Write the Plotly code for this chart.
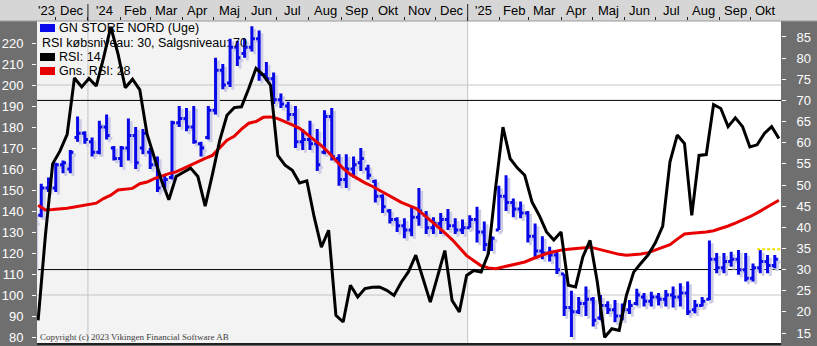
import plotly.graph_objects as go
import pandas as pd

# ---------------- data ----------------
weeks = pd.date_range('2023-11-10', periods=103, freq='7D')   # weekly bars

high = [140,153,156,163,164,169,185,178,175,183,
        186,171,171,184,180,179,170,166,157,183,
        190,189,190,173,190,213,210,222,221,222,
        228,226,211,206,196,192,190,179,183,179,
        188,189,167,167,166,170,162,155,148,141,
        137,136.5,142,151,140,137,139,141,136.5,136,
        138,142,135,128,152,157,146,144.5,140,134,
        128,123,121,110,102,99,104,99,100,97,
        97.6,96,97.6,103,101,101.6,101,102.4,104,105.6,
        106.4,97.6,99,126,120,120,120.6,121.4,120,115,
        121.4,119,119]
low = [113,137,149,149,158,158,173,172,166,167,
       174,164,161,164,160,167,160,149,151,155,
       180,178,172,166,174,186,198,199,209,213,
       216,202,202,191,189,183,170,169,169,159,
       167,164,152,151,156,159,155,144,139,134,
       130,127,128,133,129,129,129,131,129,129,
       132,125,121,121,131,140,137,136.5,125,118,
       117,116,110,90,80,91,90,85,88,91,
       87,88,91,95,94.5,94.5,95,94.5,94,94.5,
       90.5,91.3,94.5,97.6,110.4,110.4,113.5,109.6,106.4,106.4,
       110.4,110.4,112.7]
open_ = [114,138,151,151,162,160,175,177,173,168,
         180,170,165,170,176,170,168,162,152,156,
         182,184,180,172,175,188,207,201,218,215,
         218,222,205,203,193,190,186,173,174,172,
         168,185,165,155,160,163,160,154,147,140,
         136,133,131,137,138,132,134,136,133,131,
         132,136,130,124,131,147,144,141,139,128,
         121,120,119,110,94,92,96,98,89,95,
         93,90,93,96,99,97,99,98,100,99,
         101,93,95,98,117,113,116,117,112,108,
         113,116,114]
close = [135,151,152,162,163,168,177,174,168,180,
         176,165,170,176,163,177,162,151,155,182,
         184,180,173,170,188,207,200,218,213,218,
         222,205,203,193,191,186,173,174,172,162,
         185,166,155,160,162,165,157,147,142,136,
         133,131,137,140,132,134,136,133,131,132,
         136,130,124,127,147,144,141,139,128,121,
         120,119,112,94,92,96,98,88,95,93,
         90,93,95,100,97,99,98,100,99,101,
         92,95,97,117,113,116,117,112,108,113,
         116,114,117]
rsi = [18,38,55,58,62,75.3,73.2,75.2,73.4,80,
       87.4,81,73,75,72.5,62,56.5,51,46.5,52,
       53,54,52,45,52.5,60.5,66.5,68.3,68.5,72.8,
       77.6,76,73.6,57,54.7,53.5,50.5,51,42.5,35.3,
       39.3,19.2,17.6,26.3,23.5,25.5,25.8,25.9,25.1,23.9,
       27,29.5,33.4,28,22.3,28.4,34.5,22.7,20,28.6,
       29.8,29.4,33.8,49.5,63.7,56.2,54,52.3,46,42.8,
       38.9,37,38.9,26.3,25.9,33,36.9,27,14,16,
       15.6,23.9,29.4,31.5,33.5,36.4,40.3,55.5,61.8,59.8,
       42.8,57,57.2,69,68.1,63.8,65.9,63.8,59,59.5,
       62.2,63.8,61]
rsi_avg = [45.2,44.1,44.2,44.3,44.5,44.8,45.1,45.4,45.7,46.8,
           47.6,48.8,49,49.2,50.3,50.7,51.5,52.1,52.7,53.1,
           53.9,54.8,55.6,56.3,57,58.7,60.6,61.5,63.2,64.6,
           65,66,66.1,65.7,65,64.2,63.4,62.1,60.8,59.3,
           57.7,55.8,53.9,52.5,51.4,50.5,49.7,48.8,47.8,46.8,
           45.9,45.2,44.5,43.1,41.7,40.2,38.7,37.1,35.3,33.3,
           32.1,30.9,30.4,30.2,30.6,31,31.4,31.8,32.5,33.1,
           33.8,34.2,34.6,34.8,35,35.2,35.3,34.9,34.5,34.1,
           33.6,33.4,33.5,33.7,34,34.6,35.2,35.9,37.2,38.4,
           38.6,38.7,38.9,39.2,39.7,40.3,41,41.7,42.5,43.4,
           44.4,45.4,46.4]

month_starts = pd.date_range('2023-11-01', '2025-10-01', freq='MS')
month_labels = ["'23", "Dec", "'24", "Feb", "Mar", "Apr", "Maj", "Jun", "Jul", "Aug", "Sep", "Okt",
                "Nov", "Dec", "'25", "Feb", "Mar", "Apr", "Maj", "Jun", "Jul", "Aug", "Sep", "Okt"]
year_starts = pd.to_datetime(['2024-01-01', '2025-01-01'])
price_ticks = list(range(80, 230, 10))
rsi_ticks = list(range(15, 90, 5))
rsi_levels = [30, 70]
price_grid = [100, 200]
marker_level = 121.8

# ---------------- layout geometry ----------------
W, H = 817, 346
L, R, T, B = 37, 36, 21, 2
PW, PH = W - L - R, H - T - B
x0 = pd.Timestamp('2023-11-12 22:00')
x1 = pd.Timestamp('2025-10-30 00:00')
y_range = [76.67, 230.48]
rsi_range = [12.40, 88.78]


def px(x):
    return (x - L) / PW


def py(y):
    return 1 - (y - T) / PH


def dfrac(d):
    return (d - x0) / (x1 - x0)


FONT = "Liberation Sans"
BLUE = '#0808e8'
SHADOW = '#cdcde6'

month_next = list(month_starts[1:]) + [pd.Timestamp('2025-11-01')]
label_pos = [max(s, x0) + (min(n, x1) - max(s, x0)) / 2 for s, n in zip(month_starts, month_next)]

fig = go.Figure()

# shadow of bars
fig.add_trace(go.Ohlc(
    x=weeks + pd.Timedelta(days=2.6),
    open=[v - 1.3 for v in open_], high=[v - 1.3 for v in high],
    low=[v - 1.3 for v in low], close=[v - 1.3 for v in close],
    increasing=dict(line=dict(color=SHADOW, width=3)),
    decreasing=dict(line=dict(color=SHADOW, width=3)),
    tickwidth=0.42, hoverinfo='skip', showlegend=False))

fig.add_trace(go.Ohlc(
    x=weeks, open=open_, high=high, low=low, close=close,
    increasing=dict(line=dict(color=BLUE, width=3)),
    decreasing=dict(line=dict(color=BLUE, width=3)),
    tickwidth=0.42, showlegend=False, name='GN STORE NORD (Uge)'))

rsi_x = weeks + pd.Timedelta(days=4)
fig.add_trace(go.Scatter(x=rsi_x, y=rsi_avg, yaxis='y2', mode='lines',
                         line=dict(color='#e80000', width=3), showlegend=False))
fig.add_trace(go.Scatter(x=rsi_x, y=rsi, yaxis='y2', mode='lines',
                         line=dict(color='#000000', width=3), showlegend=False))
fig.add_trace(go.Scatter(x=[weeks[99] + pd.Timedelta(days=4), x1], y=[marker_level, marker_level],
                         mode='lines', line=dict(color='#f0e000', width=2, dash='3px,2px'),
                         showlegend=False))

shapes = []
# top strip
shapes.append(dict(type='rect', xref='paper', yref='paper', x0=px(0), x1=px(W), y0=1, y1=py(0),
                   fillcolor='#d6d6d6', line=dict(width=0), layer='below'))
shapes.append(dict(type='line', xref='paper', yref='paper', x0=px(0), x1=px(W), y0=1, y1=1,
                   line=dict(color='#9a9a9a', width=1)))
# 2023-2024 light background
shapes.append(dict(type='rect', xref='paper', yref='paper', x0=0, x1=dfrac(year_starts[1]), y0=0, y1=1,
                   fillcolor='#f3f3f3', line=dict(width=0), layer='below'))
# price grid lines
for g in price_grid:
    shapes.append(dict(type='line', xref='paper', yref='y', x0=0, x1=1, y0=g, y1=g,
                       line=dict(color='#c4c4c4', width=1), layer='below'))
# year lines
for ys in year_starts:
    f = dfrac(ys)
    shapes.append(dict(type='line', xref='paper', yref='paper', x0=f, x1=f, y0=0, y1=1,
                       line=dict(color='#c4c4c4', width=1), layer='below'))
    shapes.append(dict(type='line', xref='paper', yref='paper', x0=f, x1=f, y0=1, y1=py(4),
                       line=dict(color='#202020', width=1)))
# RSI levels
for lv in rsi_levels:
    shapes.append(dict(type='line', xref='paper', yref='y2', x0=0, x1=1, y0=lv, y1=lv,
                       line=dict(color='#000000', width=1), layer='below'))
# bottom border
shapes.append(dict(type='line', xref='paper', yref='paper', x0=0, x1=1, y0=0, y1=0,
                   line=dict(color='#202020', width=2)))

annotations = []
# month labels in the top strip
for pos, txt in zip(label_pos, month_labels):
    annotations.append(dict(text=txt, xref='x', yref='paper', x=pos, y=py(10.5),
                            xanchor='center', yanchor='middle', showarrow=False,
                            font=dict(family=FONT, size=13, color='#000000')))

# legend
leg = [(28, BLUE, 'GN STORE NORD (Uge)'), (43, None, 'RSI købsniveau: 30, Salgsniveau: 70'),
       (57, '#000000', 'RSI: 14'), (71, '#e80000', 'Gns. RSI: 28')]
for yy, col, txt in leg:
    if col:
        shapes.append(dict(type='rect', xref='paper', yref='paper', x0=px(40), x1=px(55),
                           y0=py(yy + 4), y1=py(yy - 4), fillcolor=col, line=dict(width=0)))
        xt = 57
    else:
        xt = 40
    annotations.append(dict(text=txt, xref='paper', yref='paper', x=px(xt), y=py(yy),
                            xanchor='left', yanchor='middle', showarrow=False,
                            font=dict(family=FONT, size=12.5, color='#000000')))
annotations.append(dict(text='Copyright (c) 2023 Vikingen Financial Software AB', xref='paper', yref='paper',
                        x=px(38), y=py(337), xanchor='left', yanchor='middle', showarrow=False,
                        font=dict(family='Liberation Serif', size=9, color='#404040')))

fig.update_layout(
    width=W, height=H, margin=dict(l=L, r=R, t=T, b=B, pad=0),
    paper_bgcolor='#6f6f6f', plot_bgcolor='#ffffff',
    showlegend=False, shapes=shapes, annotations=annotations,
    xaxis=dict(type='date', range=[x0, x1], side='top', rangeslider=dict(visible=False),
               showticklabels=False, ticks='', tickmode='array', tickvals=list(month_starts),
               showgrid=False, zeroline=False, showline=False,
               minor=dict(tickmode='array', tickvals=list(month_starts), ticks='outside',
                          ticklen=3, tickcolor='#202020', showgrid=False),
               fixedrange=True),
    yaxis=dict(range=y_range, tickmode='array', tickvals=price_ticks, ticks='outside', ticklen=4,
               tickcolor='#ffffff', showgrid=False, zeroline=False, showline=False,
               tickfont=dict(family=FONT, size=13, color='#ffffff'), ticklabelstandoff=6,
               fixedrange=True),
    yaxis2=dict(range=rsi_range, overlaying='y', side='right', tickmode='array', tickvals=rsi_ticks,
                ticks='outside', ticklen=4, tickcolor='#ffffff', showgrid=False, zeroline=False,
                showline=False, tickfont=dict(family=FONT, size=13, color='#ffffff'),
                ticklabelstandoff=8, fixedrange=True),
)

fig.write_html("out.html")
